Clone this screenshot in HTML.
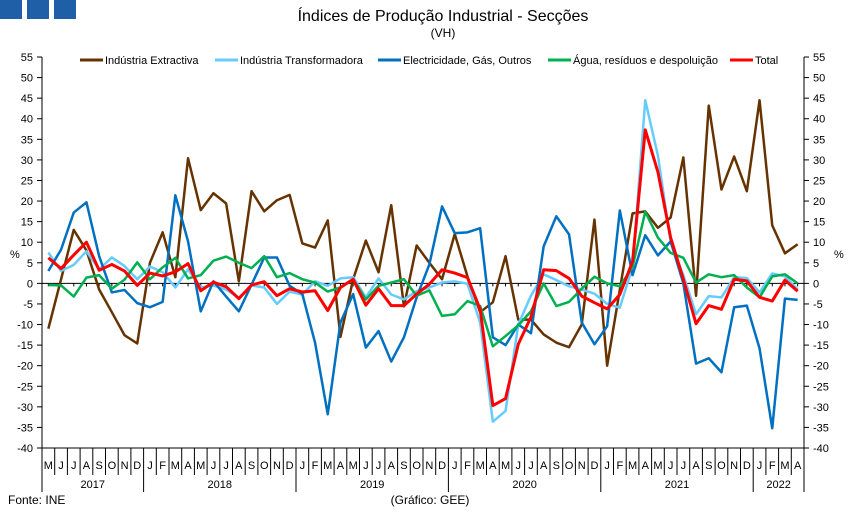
<!DOCTYPE html>
<html><head><meta charset="utf-8"><style>
body{margin:0;background:#fff;width:851px;height:518px;overflow:hidden;font-family:"Liberation Sans",sans-serif}
svg text{font-family:"Liberation Sans",sans-serif}
</style></head><body>
<svg id="c" width="851" height="518">
<rect x="0" y="0" width="22" height="19" fill="#1f5fa8"/>
<rect x="27" y="0" width="22" height="19" fill="#1f5fa8"/>
<rect x="54" y="0" width="22" height="19" fill="#1f5fa8"/>
<text x="443" y="21" font-size="16" text-anchor="middle">Índices de Produção Industrial - Secções</text>
<text x="443" y="37" font-size="12" text-anchor="middle">(VH)</text>
<text x="10" y="258" font-size="11">%</text>
<text x="834" y="258" font-size="11">%</text>
<text x="8" y="504" font-size="12">Fonte: INE</text>
<text x="430" y="504" font-size="12" text-anchor="middle">(Gráfico: GEE)</text>
<g id="axes"></g><g id="series"></g><g id="legend"></g>
</svg>
<script>
const months=["M","J","J","A","S","O","N","D","J","F","M","A","M","J","J","A","S","O","N","D","J","F","M","A","M","J","J","A","S","O","N","D","J","F","M","A","M","J","J","A","S","O","N","D","J","F","M","A","M","J","J","A","S","O","N","D","J","F","M","A"];
const years=["2017","2018","2019","2020","2021","2022"];
const yearStarts=[0,8,20,32,44,56];
const yTicks=[55,50,45,40,35,30,25,20,15,10,5,0,-5,-10,-15,-20,-25,-30,-35,-40];
const seriesNames=["Indústria Extractiva","Indústria Transformadora","Electricidade, Gás, Outros","Água, resíduos e despoluição","Total"];
const extractiva=[-11,1,13,8,-1.5,-7,-12.6,-14.6,5,12.4,1.5,30.4,17.8,21.9,19.4,0.5,22.4,17.5,20.2,21.5,9.7,8.7,15.3,-13,1,10.4,2.7,19,-5.6,9.2,5,1,12,1.7,-7,-4.6,6.6,-8.8,-8.8,-12.4,-14.4,-15.5,-10,15.5,-20,-1.5,17,17.5,13.5,16,30.6,-3,43.2,22.8,30.8,22.4,44.5,14.1,7.3,9.5];
const transformadora=[7.5,3,4.5,7.8,3.4,6.3,4.2,1,4.1,2.7,-1,3.4,-1,-0.5,-1.5,-3.5,-0.5,-1,-5,-2,-2.7,0.5,-0.6,1.2,1.5,-3.4,1.2,-2.7,-3.9,-1.9,-1,0.2,0.5,-0.1,-9.5,-33.6,-31,-10,-3,2.2,0.8,-0.7,-1.5,-2.5,-5,-5.9,4,44.5,31,10,2,-7.5,-3.1,-3.4,1.5,1.3,-2.2,2.4,1.7,-1.5];
const electricidade=[3,8.2,17.2,19.7,6.6,-2.2,-1.6,-4.8,-5.8,-4.5,21.4,10.2,-6.8,0.5,-3.2,-6.8,-0.3,6.3,6.3,-0.6,-2.6,-14.4,-31.8,-9.5,-2.6,-15.6,-11.6,-19,-13.1,-3.4,4.6,18.7,12.2,12.4,13.4,-13.1,-15,-10,-12.1,9,16.3,11.9,-9.5,-14.8,-10.4,17.7,2,11.7,6.8,10.2,0,-19.5,-18.2,-21.6,-5.8,-5.4,-15.8,-35.2,-3.7,-4];
const agua=[-0.4,-0.5,-3.2,1.4,2,-1.3,0.9,5.1,1,3.9,6.2,1.2,2,5.5,6.5,5,3.7,6.6,1.5,2.5,1,0.2,-2,-1,1,-3.9,-0.6,0.2,1,-3,-1.7,-7.9,-7.5,-4.3,-5.5,-15.3,-12.8,-10.2,-6.8,0,-5.5,-4.5,-1.3,1.6,0,-0.7,4,17.4,11.1,7.4,6.2,0.2,2.2,1.5,2,-1,-3.4,1.7,2.2,0];
const total=[6.2,3.6,6.9,10,3.2,4.6,3,-0.5,2.5,1.8,2.8,4.8,-1.8,0.3,-0.8,-3.7,-0.4,0.4,-3,-1.3,-2.1,-1.8,-6.6,-1,1,-5.3,-1.3,-5.4,-5.4,-2.6,-0.2,3.3,2.5,1.4,-6.3,-29.7,-28,-14.8,-8.2,3.3,3.1,1.2,-3.1,-4.7,-6.2,-2.7,5.3,37.3,27,11.1,1,-9.8,-5.4,-6.3,1,0.6,-3.4,-4.3,0.8,-1.9];
const seriesData=[extractiva,transformadora,electricidade,agua,total];
const colors=["#663300","#66ccff","#0070c0","#00b050","#ff0000"];
const widths=[2.5,2.5,2.5,2.5,3];
const L=42,R=804,T=57,B=448,yMax=55,yMin=-40,N=months.length;
const step=(R-L)/N;
const xs=i=>L+step*(i+0.5);
const ys=v=>T+(yMax-v)/(yMax-yMin)*(B-T);
const NS="http://www.w3.org/2000/svg";
function mk(tag,attrs,parent){const e=document.createElementNS(NS,tag);for(const k in attrs)e.setAttribute(k,attrs[k]);parent.appendChild(e);return e;}
const ax=document.getElementById("axes");
let e;
e=mk("line",{x1:L,y1:T,x2:L,y2:B,stroke:"#000","stroke-width":1},ax);


e=mk("line",{x1:R,y1:T,x2:R,y2:B,stroke:"#000","stroke-width":1},ax);


yTicks.forEach(v=>{const y=ys(v);
 mk("line",{x1:L-5,y1:y,x2:L,y2:y,stroke:"#000"},ax);
 mk("line",{x1:R,y1:y,x2:R+5,y2:y,stroke:"#000"},ax);
 let t=mk("text",{x:L-9,y:y+4,"font-size":11,"text-anchor":"end"},ax);t.textContent=v;
 
 
 t=mk("text",{x:R+9,y:y+4,"font-size":11},ax);t.textContent=v;
 
 
});
e=mk("line",{x1:L,y1:ys(0),x2:R,y2:ys(0),stroke:"#000","stroke-width":1},ax);


for(let i=0;i<N;i++){mk("line",{x1:xs(i),y1:ys(0),x2:xs(i),y2:ys(0)+3,stroke:"#000"},ax);}
e=mk("line",{x1:L,y1:B,x2:R,y2:B,stroke:"#000"},ax);


for(let i=0;i<=N;i++){mk("line",{x1:L+step*i,y1:B,x2:L+step*i,y2:B+27,stroke:"#000"},ax);}
months.forEach((m,i)=>{const t=mk("text",{x:xs(i),y:B+21,"font-size":11,"text-anchor":"middle"},ax);t.textContent=m;
 
 });
years.forEach((yr,k)=>{const s=yearStarts[k],en=k+1<yearStarts.length?yearStarts[k+1]:N;
 mk("line",{x1:L+step*s,y1:B+27,x2:L+step*s,y2:B+44,stroke:"#000"},ax);
 const t=mk("text",{x:L+step*(s+en)/2,y:B+40,"font-size":11,"text-anchor":"middle"},ax);t.textContent=yr;
 
 });
mk("line",{x1:R,y1:B+27,x2:R,y2:B+44,stroke:"#000"},ax);
const sg=document.getElementById("series");
seriesData.forEach((d,k)=>{const p=mk("polyline",{points:d.map((v,i)=>xs(i)+","+ys(v)).join(" "),fill:"none",stroke:colors[k],"stroke-width":widths[k],"stroke-linejoin":"round"},sg);
 
 });
const lg=document.getElementById("legend");
const lx=[80,215,378,548,730];
seriesNames.forEach((n,k)=>{
 const g=mk("g",{},lg);
 
 
 mk("line",{x1:lx[k],y1:60,x2:lx[k]+23,y2:60,stroke:colors[k],"stroke-width":3},g);
 const t=mk("text",{x:lx[k]+25,y:64,"font-size":11},g);t.textContent=n;});
</script>
</body></html>
